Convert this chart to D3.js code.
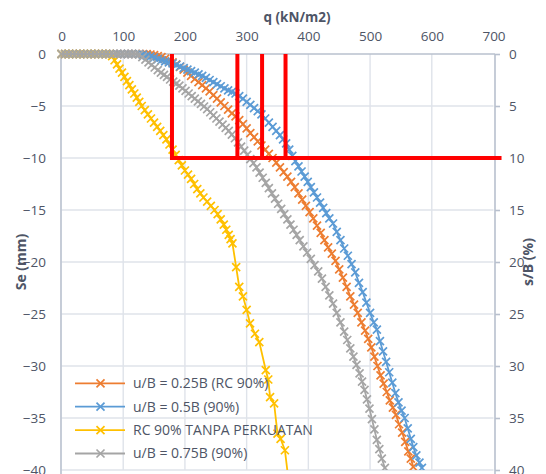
<!DOCTYPE html>
<html><head><meta charset="utf-8">
<script src="https://cdn.jsdelivr.net/npm/d3@7"></script>
<style>
body{margin:0;background:#fff;}
text{font-family:"Open Sans",sans-serif;fill:#4e5566;}
</style></head>
<body><svg id="c" width="546" height="474"></svg>
<script>
// ---- data ----
const qTicks = [0,100,200,300,400,500,600,700];
const seTicks = [0,-5,-10,-15,-20,-25,-30,-35,-40];
const sbTicks = [0,5,10,15,20,25,30,35,40];
const seriesNames = ["u/B = 0.25B (RC 90%)","u/B = 0.5B (90%)","RC 90% TANPA PERKUATAN","u/B = 0.75B (90%)"];
const seriesColors = ["#ED7D31","#5B9BD5","#FFC000","#A5A5A5"];

const orange = [[0,0],[6,0],[12,0],[18,0],[24,0],[30,0],[36,0],[42,0],[48,0],[54,0],[60,0],[66,0],[72,0],[78,0],[84,0],[90,0],[96,0],[102,0],[108,0],[114,0],[120,0],[126,0],[132,0],[138,0],
[144,-0.05],[150,-0.1],[156,-0.2],[162,-0.3],[168,-0.45],[174,-0.6],[180,-0.8],[186,-1.0],[192,-1.25],[198,-1.5],[204,-1.8],[210,-2.1],[216,-2.4],[222,-2.7],[228,-3.0],[234,-3.3],[240,-3.6],[246,-3.95],[252,-4.3],[258,-4.65],[264,-5.0],[270,-5.35],[276,-5.7],[282,-6.0],[288,-6.35],[294,-6.75],[300,-7.15],[306,-7.6],[312,-8.0],[318,-8.4],[324,-8.8],[330,-9.2],[336,-9.6],[342,-10.0],[348,-10.45],[354,-10.9],[360,-11.35],[366,-11.8],[372,-12.3],[378,-12.8],[384,-13.4],[390,-14.0],[396,-14.6],[402,-15.2],[408,-15.8],[414,-16.5],[420,-17.2],[426,-17.9],[432,-18.6],[438,-19.2],[444,-19.9],[450,-20.7],[456,-21.5],[462,-22.4],[468,-23.3],[474,-24.1],[480,-24.9],[486,-25.8],[492,-26.6],[497,-27.4],[502,-28.2],[507,-29.1],[512,-30.0],[517,-30.9],[522,-31.7],[527,-32.5],[532,-33.3],[537,-34.0],[542,-34.7],[547,-35.6],[552,-36.4],[557,-37.3],[562,-38.2],[566,-38.9],[570,-39.7]];

const blue = [[0,0],[6,0],[12,0],[18,0],[24,0],[30,0],[36,0],[42,0],[48,0],[54,0],[60,0],[66,0],[72,0],[78,0],[84,0],[90,0],[96,0],[102,0],[108,0],[114,0],[120,0],[126,0],
[132,-0.05],[138,-0.15],[144,-0.25],[150,-0.35],[156,-0.5],[162,-0.6],[168,-0.7],[174,-0.8],[180,-0.9],[186,-1.05],[192,-1.2],[198,-1.35],[204,-1.5],[210,-1.65],[216,-1.8],[222,-1.95],[228,-2.1],[234,-2.3],[240,-2.5],[246,-2.7],[252,-2.9],[258,-3.1],[264,-3.3],[270,-3.5],[276,-3.65],[282,-3.8],[288,-4.05],[294,-4.3],[300,-4.6],[306,-4.9],[312,-5.2],[318,-5.5],[324,-5.8],[330,-6.2],[336,-6.6],[342,-7.0],[348,-7.4],[354,-7.8],[359,-8.2],[364,-8.6],[369,-9.2],[374,-9.8],[379,-10.3],[384,-10.8],[389,-11.3],[394,-11.8],[399,-12.3],[404,-12.8],[409,-13.3],[414,-13.8],[419,-14.3],[424,-14.8],[429,-15.3],[434,-15.8],[440,-16.3],[446,-17.1],[452,-17.9],[458,-18.7],[464,-19.4],[470,-20.2],[476,-21.0],[482,-22.0],[488,-22.9],[494,-23.9],[500,-24.9],[506,-25.8],[511,-26.5],[516,-27.6],[521,-28.6],[526,-29.6],[531,-30.6],[536,-31.6],[541,-32.6],[546,-33.5],[551,-34.3],[556,-35.0],[561,-36.0],[566,-37.0],[570,-37.8],[575,-38.6],[580,-39.3],[584,-39.8]];

const yellow = [[0,0],[6,0],[12,0],[18,0],[24,0],[30,0],[36,0],[42,0],[48,0],[54,0],[60,0],[66,0],[72,0],[78,0],
[82,-0.2],[86,-0.6],[90,-1.0],[94,-1.4],[98,-1.8],[102,-2.2],[106,-2.6],[110,-3.0],[114,-3.4],[118,-3.8],[122,-4.2],[126,-4.6],[130,-5.0],[135,-5.4],[140,-5.8],[145,-6.2],[150,-6.6],[155,-7.0],[160,-7.4],[165,-7.8],[170,-8.2],[175,-8.7],[180,-9.2],[185,-9.7],[190,-10.2],[195,-10.7],[200,-11.2],[205,-11.6],[210,-12.0],[215,-12.5],[220,-13.0],[225,-13.4],[230,-13.8],[236,-14.2],[242,-14.6],[248,-15.0],[253,-15.4],[258,-15.9],[263,-16.4],[267,-16.9],[271,-17.4],[274,-17.8],[277,-18.2],
[283,-20.5],[288,-22.4],[294,-23.3],[300,-24.6],[305.5,-25.9],[313.5,-26.9],[320.5,-27.7],[331,-30.4],[335,-31.3],[338,-33.0],[344.5,-33.6],[350,-36.5],[355,-37.0],[362,-38.1],[372,-43]];

const gray = [[0,0],[6,0],[12,0],[18,0],[24,0],[30,0],[36,0],[42,0],[48,0],[54,0],[60,0],[66,0],[72,0],[78,0],[84,0],[90,0],[96,0],[102,0],[108,0],[114,0],[120,0],
[126,-0.05],[131,-0.3],[136,-0.55],[141,-0.8],[146,-1.05],[151,-1.3],[156,-1.55],[161,-1.8],[166,-2.0],[171,-2.2],[176,-2.45],[181,-2.65],[186,-2.85],[191,-3.05],[196,-3.3],[201,-3.55],[206,-3.8],[211,-4.05],[216,-4.3],[221,-4.55],[226,-4.8],[231,-5.05],[236,-5.3],[241,-5.6],[246,-5.9],[251,-6.2],[256,-6.5],[261,-6.8],[266,-7.1],[271,-7.4],[276,-7.75],[281,-8.1],[286,-8.5],[291,-8.9],[296,-9.3],[301,-9.7],[306,-10.1],[311,-10.5],[316,-10.9],[321,-11.4],[326,-11.9],[331,-12.4],[336,-12.9],[341,-13.4],[346,-13.9],[351,-14.4],[356,-14.9],[361,-15.4],[366,-15.9],[371,-16.4],[376,-16.9],[381,-17.4],[386,-17.9],[392,-18.5],[398,-19.1],[404,-19.7],[410,-20.3],[416,-20.9],[422,-21.6],[428,-22.4],[434,-23.2],[440,-24.0],[446,-24.9],[452,-25.8],[458,-26.7],[463,-27.5],[468,-28.3],[473,-29.1],[478,-29.9],[483,-30.7],[487,-31.5],[491,-32.3],[495,-33.2],[499,-34.1],[503,-35.1],[507,-36.1],[511,-37.1],[515,-38.0],[519,-38.9],[524,-39.8]];

const redQ = [179, 285, 325, 363];   // vertical reference lines at these loads
const redSe = -10;                   // settlement limit (s/B = 10%)
const redEndQ = 713;

// ---- chart ----
const svg = d3.select("#c");
const x = d3.scaleLinear().domain([0,700]).range([61.5,493.5]);
const y = d3.scaleLinear().domain([0,-40]).range([54,470]);
const yR = d3.scaleLinear().domain([0,40]).range([54,470]);
const gridC = "#dfe3ea", axisC = "#b8c0ce";

// gridlines
svg.append("g").selectAll("line").data(seTicks.slice(1)).join("line")
  .attr("x1",x(0)).attr("x2",x(700)).attr("y1",d=>y(d)).attr("y2",d=>y(d))
  .attr("stroke",gridC).attr("stroke-width",1.4);
svg.append("g").selectAll("line").data(qTicks.slice(1,-1)).join("line")
  .attr("x1",d=>x(d)).attr("x2",d=>x(d)).attr("y1",y(0)).attr("y2",y(-40))
  .attr("stroke",gridC).attr("stroke-width",1.4);

// axis lines
svg.append("line").attr("x1",x(0)).attr("x2",x(700)+1.5).attr("y1",y(0)).attr("y2",y(0)).attr("stroke",axisC).attr("stroke-width",1.6);
svg.append("line").attr("x1",x(0)-0.5).attr("x2",x(0)-0.5).attr("y1",y(0)).attr("y2",474).attr("stroke",axisC).attr("stroke-width",1.6);
svg.append("line").attr("x1",x(700)+1.5).attr("x2",x(700)+1.5).attr("y1",y(0)).attr("y2",474).attr("stroke",axisC).attr("stroke-width",1.6);

// axes
const fs = "13.5px";
const gTop = svg.append("g").attr("transform",`translate(0,${y(0)})`)
  .call(d3.axisTop(x).tickValues(qTicks).tickSize(0).tickPadding(13));
gTop.select(".domain").remove();
gTop.selectAll("text").style("font-size",fs).attr("fill","#4e5566");

const gLeft = svg.append("g").attr("transform",`translate(${x(0)},0)`)
  .call(d3.axisLeft(y).tickValues(seTicks).tickSize(0).tickPadding(15.5));
gLeft.select(".domain").remove();
gLeft.selectAll("text").style("font-size",fs).attr("fill","#4e5566");

const gRight = svg.append("g").attr("transform",`translate(${x(700)+1.5},0)`)
  .call(d3.axisRight(yR).tickValues(sbTicks).tickSize(5).tickPadding(9));
gRight.select(".domain").remove();
gRight.selectAll("line").attr("stroke",axisC).attr("stroke-width",1.6);
gRight.selectAll("text").style("font-size",fs).attr("fill","#4e5566");

// titles
svg.append("text").attr("x",297).attr("y",22).attr("text-anchor","middle")
  .style("font-size","13.5px").style("font-weight","bold").text("q (kN/m2)");
svg.append("text").attr("transform","translate(26,262) rotate(-90)").attr("text-anchor","middle")
  .style("font-size","14px").style("font-weight","bold").text("Se (mm)");
svg.append("text").attr("transform","translate(533,262) rotate(-90)").attr("text-anchor","middle")
  .style("font-size","14px").style("font-weight","bold").text("s/B (%)");

// series
svg.append("clipPath").attr("id","clip").append("rect").attr("x",0).attr("y",0).attr("width",546).attr("height",470);
const plot = svg.append("g").attr("clip-path","url(#clip)");
const line = d3.line().x(d=>x(d[0])).y(d=>y(d[1]));
const xMark = "M-4,-4L4,4M-4,4L4,-4";
[orange, blue, yellow, gray].forEach((s,i)=>{
  const g = plot.append("g");
  g.append("path").attr("d",line(s)).attr("fill","none").attr("stroke",seriesColors[i]).attr("stroke-width",1.8);
  g.selectAll("path.m").data(s).join("path").attr("class","m").attr("d",xMark)
    .attr("transform",d=>`translate(${x(d[0])},${y(d[1])})`)
    .attr("stroke",seriesColors[i]).attr("stroke-width",1.7).attr("fill","none");
});

// red reference lines
const red = svg.append("g");
red.append("path").attr("d",line([[redQ[0],0],[redQ[0],redSe],[redEndQ,redSe]]))
  .attr("fill","none").attr("stroke","#FF0000").attr("stroke-width",4);
red.selectAll("line").data(redQ.slice(1)).join("line")
  .attr("x1",d=>x(d)).attr("x2",d=>x(d)).attr("y1",y(0)).attr("y2",y(redSe))
  .attr("stroke","#FF0000").attr("stroke-width",4);

// legend
const leg = svg.append("g");
seriesNames.forEach((n,i)=>{
  const ly = 383.3 + i*23.4;
  leg.append("line").attr("x1",75).attr("x2",125).attr("y1",ly).attr("y2",ly).attr("stroke",seriesColors[i]).attr("stroke-width",1.8);
  leg.append("path").attr("d",xMark).attr("transform",`translate(100.5,${ly})`).attr("stroke",seriesColors[i]).attr("stroke-width",1.7);
  leg.append("text").attr("x",133).attr("y",ly).attr("dy","0.35em").style("font-size","14px").text(n);
});
</script>
</body></html>
